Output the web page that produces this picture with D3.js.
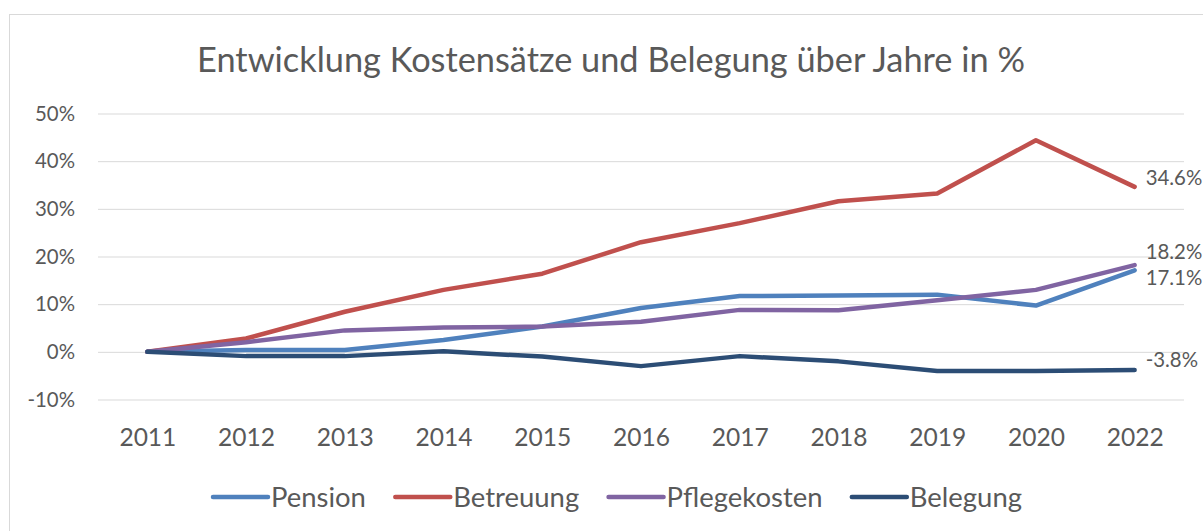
<!DOCTYPE html>
<html>
<head>
<meta charset="utf-8">
<script src="https://cdn.jsdelivr.net/npm/d3@7"></script>
<style>
  html, body { margin: 0; padding: 0; background: #fff; }
  svg { display: block; }
  text { font-family: "Lato", "Open Sans", sans-serif; fill: #595959; }
</style>
</head>
<body>
<svg id="chart" width="1203" height="531"></svg>
<script>
// ---- data ----
const years = ["2011","2012","2013","2014","2015","2016","2017","2018","2019","2020","2022"];
const pension      = [0, 0.4, 0.4, 2.5, 5.3, 9.2, 11.7, 11.8, 12.0, 9.7, 17.1];
const betreuung    = [0, 2.8, 8.4, 13.0, 16.4, 23.0, 27.0, 31.6, 33.2, 44.4, 34.6];
const pflegekosten = [0, 2.0, 4.5, 5.1, 5.3, 6.3, 8.8, 8.7, 10.8, 13.0, 18.2];
const belegung     = [0, -0.9, -0.9, 0.1, -1.0, -3.0, -0.9, -2.0, -4.0, -4.0, -3.8];
const seriesNames  = ["Pension", "Betreuung", "Pflegekosten", "Belegung"];
const yTicks       = [-10, 0, 10, 20, 30, 40, 50];
const titleText    = "Entwicklung Kostensätze und Belegung über Jahre in %";

(function () {
// ---- style ----
const FONT = "Lato";
const colors = ["#4F81BD", "#C0504D", "#8064A2", "#2C4D75"];
const labelDyMap = {"Pension": 8, "Betreuung": -9, "Pflegekosten": -13, "Belegung": -10};

const svg = d3.select("#chart");

// chart frame
svg.append("rect").attr("x", 9.5).attr("y", 14.5).attr("width", 1300).attr("height", 600)
  .attr("fill", "none").attr("stroke", "#d9d9d9").attr("stroke-width", 1);

const pLeft = 98, pRight = 1184, pTop = 113.5, pBottom = 399.5;

const x = d3.scalePoint().domain(years).range([pLeft, pRight]).padding(0.5);
const y = d3.scaleLinear().domain([-10, 50]).range([pBottom, pTop]);

function fit(sel, target) {
  const base = parseFloat(sel.attr("font-size"));
  const w = sel.node().getComputedTextLength();
  sel.attr("font-size", base * target / w);
}

// title
const title = svg.append("text").attr("x", 611).attr("y", 72).attr("text-anchor", "middle")
  .attr("font-size", 30).text(titleText);
fit(title, 828);

// gridlines + y axis
const yAxis = d3.axisLeft(y).tickValues(yTicks).tickSize(-(pRight - pLeft)).tickFormat(d => d + "%");
const gy = svg.append("g").attr("transform", `translate(${pLeft},0)`).call(yAxis);
gy.select(".domain").remove();
gy.selectAll(".tick line").attr("stroke", "#d9d9d9").attr("stroke-width", 1);
gy.selectAll(".tick text").attr("x", -23).attr("fill", "#595959")
  .attr("font-family", FONT).attr("font-size", 20);
{
  const t = gy.selectAll(".tick text").filter(d => d === 50);
  const w = t.node().getComputedTextLength();
  gy.selectAll(".tick text").attr("font-size", 20 * 40 / w);
}

// x axis
const xAxis = d3.axisBottom(x).tickSize(0);
const gx = svg.append("g").attr("transform", `translate(0,${pBottom})`).call(xAxis);
gx.select(".domain").remove();
gx.selectAll(".tick text").attr("fill", "#595959").attr("font-family", FONT).attr("font-size", 24)
  .attr("dy", null).attr("y", 46);
{
  const t = gx.selectAll(".tick text").filter(d => d === "2011");
  const w = t.node().getComputedTextLength();
  gx.selectAll(".tick text").attr("font-size", 24 * 57 / w);
}

// lines
const allSeries = [pension, betreuung, pflegekosten, belegung];
const line = d3.line().x((d, i) => x(years[i])).y(d => y(d));
allSeries.forEach((s, k) => {
  svg.append("path").datum(s).attr("d", line)
    .attr("fill", "none").attr("stroke", colors[k]).attr("stroke-width", 4.5)
    .attr("stroke-linecap", "round").attr("stroke-linejoin", "round");
});

// end labels
const yLabelSize = parseFloat(gy.select(".tick text").attr("font-size"));
allSeries.forEach((s, k) => {
  const v = s[s.length - 1];
  svg.append("text")
    .attr("x", x(years[years.length - 1]) + 11)
    .attr("y", y(v) + labelDyMap[seriesNames[k]])
    .attr("dy", "0.35em")
    .attr("font-size", yLabelSize)
    .text(v.toFixed(1) + "%");
});

// legend
const legendY = 497;
const lg = svg.append("g");
const items = seriesNames.map((n, k) => {
  const g = lg.append("g");
  g.append("line").attr("x1", 0).attr("x2", 55).attr("y1", 0).attr("y2", 0)
    .attr("stroke", colors[k]).attr("stroke-width", 4.5).attr("stroke-linecap", "round");
  const t = g.append("text").attr("x", 58).attr("y", 0).attr("dy", "0.35em").attr("font-size", 24).text(n);
  return {g, t};
});
{
  const w = items[0].t.node().getComputedTextLength();
  const fs = 24 * 95 / w;
  items.forEach(it => it.t.attr("font-size", fs));
}
const widths = items.map(it => 58 + it.t.node().getComputedTextLength());
// fit total legend span to 213..1022
const spanTarget = 1022 - 213;
const gap = Math.max(20, (spanTarget - d3.sum(widths)) / (items.length - 1));
let cx = 213;
items.forEach((it, k) => {
  it.g.attr("transform", `translate(${cx},${legendY})`);
  cx += widths[k] + gap;
});
})();
</script>
</body>
</html>
